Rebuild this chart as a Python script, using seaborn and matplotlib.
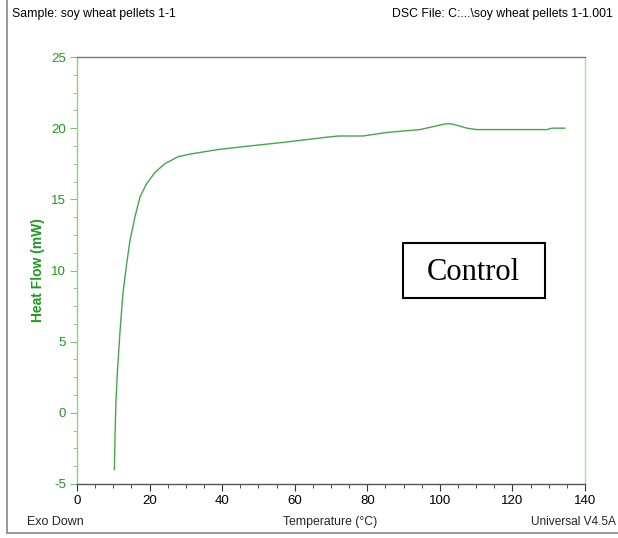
import matplotlib
matplotlib.use("Agg")
import matplotlib.pyplot as plt
import seaborn as sns
import pandas as pd
from matplotlib.lines import Line2D
from matplotlib.patches import Rectangle
from matplotlib.ticker import MultipleLocator

temperature = [10.3, 10.5, 10.75, 11.2, 11.85, 12.5, 12.76, 13.7, 14.6, 16.0, 17.4,
               19.2, 21.5, 24.2, 27.9, 31.6, 35.3, 38.9, 45.8, 56.8, 68.3, 72.0,
               78.8, 85.4, 94.5, 98.0, 101.4, 103.3, 107.5, 110.2, 120.0, 129.5,
               130.9, 134.5]
heat_flow = [-4.0, -1.4, 0.9, 3.2, 5.7, 7.9, 8.6, 10.5, 12.1, 13.8, 15.2,
             16.1, 16.9, 17.5, 18.0, 18.2, 18.35, 18.5, 18.7, 19.0, 19.35, 19.45,
             19.45, 19.7, 19.9, 20.1, 20.3, 20.3, 20.0, 19.9, 19.9, 19.9,
             20.0, 20.0]
x_ticks = [0, 20, 40, 60, 80, 100, 120, 140]
y_ticks = [-5, 0, 5, 10, 15, 20, 25]

sns.set_theme(style="white")
plt.rcParams['font.family'] = ['Liberation Sans', 'DejaVu Sans']
plt.rcParams['axes.unicode_minus'] = False

W, H = 618, 538
fig = plt.figure(figsize=(W / 100, H / 100), dpi=100)
ax = fig.add_axes([77 / W, (H - 484) / H, 508 / W, 427 / H])

df = pd.DataFrame({"Temperature": temperature, "HeatFlow": heat_flow})
sns.lineplot(data=df, x="Temperature", y="HeatFlow", ax=ax, color="#45A845",
             linewidth=1.0, sort=False, estimator=None)

green = "#1E9A1E"
ax.set_xlim(0, 140)
ax.set_ylim(-5, 25)
ax.set_xticks(x_ticks)
ax.set_yticks(y_ticks)
ax.xaxis.set_minor_locator(MultipleLocator(5))
ax.yaxis.set_minor_locator(MultipleLocator(1.25))
ax.tick_params(axis="x", which="major", direction="out", length=5, width=0.8,
               colors="#333333", labelcolor="black", labelsize=9.5, pad=3, bottom=True)
ax.tick_params(axis="x", which="minor", direction="out", length=3, width=0.6,
               colors="#333333", bottom=True)
ax.tick_params(axis="y", which="major", direction="out", length=5, width=0.8,
               colors="#80C080", labelcolor=green, labelsize=9.5, pad=3, left=True)
ax.tick_params(axis="y", which="minor", direction="out", length=3, width=0.6,
               colors="#80C080", left=True)

ax.spines["left"].set_color("#8FD08F")
ax.spines["right"].set_color("#A8DCA8")
ax.spines["top"].set_color("#777777")
ax.spines["bottom"].set_color("#555555")
for s in ax.spines.values():
    s.set_linewidth(1.0)
    s.set_visible(True)

ax.set_xlabel("")
ax.set_ylabel("Heat Flow (mW)", color=green, fontsize=10, fontweight="semibold")
ax.yaxis.set_label_coords(-32 / 508, 0.5)

# header / footer texts
fig.text(12 / W, 1 - 14 / H, "Sample: soy wheat pellets 1-1", fontsize=8.8,
         ha="left", va="center", color="black")
fig.text(613 / W, 1 - 14 / H, "DSC File: C:...\\soy wheat pellets 1-1.001", fontsize=8.8,
         ha="right", va="center", color="black")
fig.text(27 / W, 1 - 522 / H, "Exo Down", fontsize=9, ha="left", va="center")
fig.text(330 / W, 1 - 522 / H, "Temperature (°C)", fontsize=8.8, ha="center", va="center")
fig.text(616 / W, 1 - 522 / H, "Universal V4.5A", fontsize=8.6, ha="right", va="center")

# outer frame (left and bottom)
fig.add_artist(Line2D([7 / W, 7 / W], [1 - 533 / H, 1.0], transform=fig.transFigure,
                      color="#888888", linewidth=1.2))
fig.add_artist(Line2D([7 / W, 1.0], [1 - 533 / H, 1 - 533 / H], transform=fig.transFigure,
                      color="#888888", linewidth=1.2))

# Control box
fig.add_artist(Rectangle((403 / W, 1 - 298 / H), 142 / W, 55 / H, transform=fig.transFigure,
                         facecolor="white", edgecolor="black", linewidth=1.5))
fig.text(473 / W, 1 - 272 / H, "Control", fontsize=22, ha="center", va="center",
         family=['Liberation Serif', 'DejaVu Serif'], color="black")

fig.savefig("out.png", dpi=100)
